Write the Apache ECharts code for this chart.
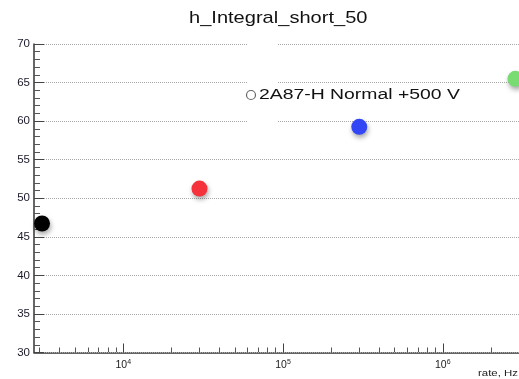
<!DOCTYPE html>
<html>
<head>
<meta charset="utf-8">
<script src="https://cdn.jsdelivr.net/npm/echarts@6/dist/echarts.min.js"></script>
<style>
  html, body { margin: 0; padding: 0; background: #fff; }
  #chart { width: 519px; height: 379px; }
</style>
</head>
<body>
<div id="chart"></div>
<script>
// Measurement points: counting rate (Hz) and short-gate integral
const rates = [3100, 30000, 300000, 2850000];
const integrals = [46.73, 51.25, 59.26, 65.48];
const pointColors = ['#000000', '#f5323c', '#3346f5', '#78dc72'];
const seriesName = '2A87-H Normal +500 V';
const titleText = 'h_Integral_short_50';
const xAxisName = 'rate, Hz';

// Axis ranges and tick positions
const xMin = 2762, xMax = 3.0e6;
const yMin = 30, yMax = 70, yStep = 5;
const xMajorTicks = [1e4, 1e5, 1e6];
const xMinorTicks = [];
for (let d = 3; d <= 6; d++) {
  for (let m = 2; m <= 9; m++) {
    const v = m * Math.pow(10, d);
    if (v >= xMin && v <= xMax) xMinorTicks.push(v);
  }
}
const yMinorTicks = [];
for (let v = yMin; v <= yMax; v++) {
  if (v % yStep !== 0) yMinorTicks.push(v);
}

const FONT = '"Liberation Sans", Arial, Helvetica, sans-serif';
const chart = echarts.init(document.getElementById('chart'), null, { renderer: 'canvas' });

chart.setOption({
  backgroundColor: '#ffffff',
  animation: false,
  grid: { left: 34, top: 44, right: 0, bottom: 26.5 },
  xAxis: [
    {
      type: 'log', logBase: 10, min: xMin, max: xMax, position: 'bottom',
      axisLine: { show: true, onZero: false, lineStyle: { color: '#333', width: 1.5 } },
      axisTick: { show: true, inside: true, length: 9, customValues: xMajorTicks,
                  lineStyle: { color: '#444', width: 1 } },
      axisLabel: {
        show: true, customValues: xMajorTicks, margin: 6,
        formatter: function (v) {
          return '{b|10}{s|' + Math.round(Math.log10(v)) + '}';
        },
        rich: {
          b: { fontSize: 10.5, fontFamily: FONT, color: '#222' },
          s: { fontSize: 7, fontFamily: FONT, color: '#222', padding: [0, 0, 6, 0] }
        }
      },
      splitLine: { show: false }
    },
    {
      type: 'log', logBase: 10, min: xMin, max: xMax, position: 'bottom',
      axisLine: { show: false, onZero: false },
      axisTick: { show: true, inside: true, length: 5, customValues: xMinorTicks,
                  lineStyle: { color: '#555', width: 1 } },
      axisLabel: { show: false },
      splitLine: { show: false }
    }
  ],
  yAxis: [
    {
      type: 'value', min: yMin, max: yMax, interval: yStep, position: 'left',
      axisLine: { show: true, onZero: false, lineStyle: { color: '#333', width: 1.5 } },
      axisTick: { show: true, inside: true, length: 10, lineStyle: { color: '#444', width: 1 } },
      axisLabel: { fontSize: 11.5, fontFamily: FONT, color: '#1a1a2a', margin: 4 },
      splitLine: { show: true, lineStyle: { color: '#aaa', width: 1, type: [1, 1] } },
      z: 3
    },
    {
      type: 'value', min: yMin, max: yMax, position: 'left',
      axisLine: { show: false, onZero: false },
      axisTick: { show: true, inside: true, length: 6, customValues: yMinorTicks,
                  lineStyle: { color: '#555', width: 1 } },
      axisLabel: { show: false },
      splitLine: { show: false },
      z: 3
    }
  ],
  graphic: [
    {
      // blank patch over the grid lines behind the legend marker
      type: 'rect', z: 4,
      shape: { x: 248, y: 38, width: 30, height: 88 },
      style: { fill: '#ffffff' }
    },
    {
      type: 'text', z: 10, x: 189, y: 18, scaleX: 1.18,
      style: { text: titleText, fontSize: 17, fontFamily: FONT, fill: '#111',
               align: 'left', verticalAlign: 'middle' }
    },
    {
      type: 'circle', z: 10,
      shape: { cx: 251, cy: 95, r: 4.5 },
      style: { fill: '#ffffff', stroke: '#666', lineWidth: 1.2 }
    },
    {
      type: 'text', z: 10, x: 259, y: 95, scaleX: 1.25,
      style: { text: seriesName, fontSize: 15.5, fontFamily: FONT, fill: '#111',
               align: 'left', verticalAlign: 'middle' }
    },
    {
      type: 'text', z: 10, x: 478, y: 373, scaleX: 1.2,
      style: { text: xAxisName, fontSize: 9.5, fontFamily: FONT, fill: '#222',
               align: 'left', verticalAlign: 'middle' }
    }
  ],
  series: [
    {
      name: seriesName,
      type: 'scatter',
      xAxisIndex: 0,
      yAxisIndex: 0,
      symbol: 'circle',
      symbolSize: 16,
      z: 5,
      data: rates.map(function (r, i) {
        return {
          value: [r, integrals[i]],
          itemStyle: {
            color: pointColors[i],
            opacity: 1,
            shadowBlur: 5, shadowOffsetX: 1, shadowOffsetY: 3,
            shadowColor: 'rgba(0,0,0,0.35)'
          }
        };
      })
    }
  ]
});
</script>
</body>
</html>
